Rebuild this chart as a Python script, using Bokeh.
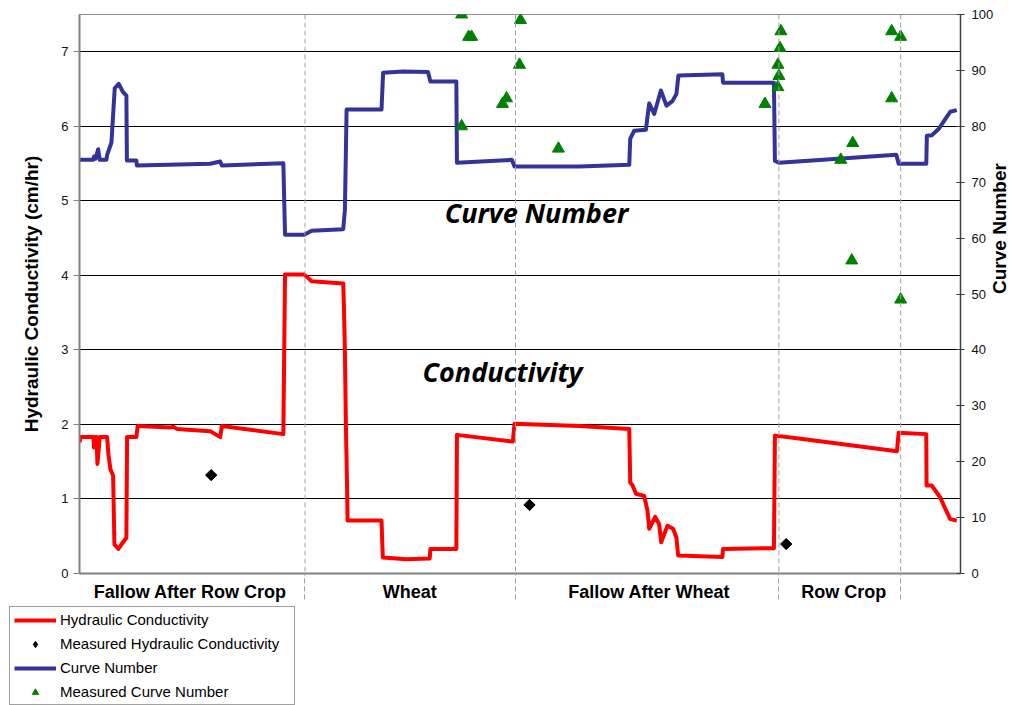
import math
from bokeh.plotting import figure
from bokeh.models import Range1d, LinearAxis, FixedTicker, Span, Label, Legend, LegendItem
from bokeh.embed import file_html
from bokeh.resources import INLINE

# ---------------- data ----------------
# day index along the record
hc_day = [0, 1, 14, 14.5, 16, 17, 18, 20.3, 27.7, 29, 31, 33.7, 35, 39, 43.7, 47, 47.7, 57, 58.3,
          91, 94, 97.7, 131, 141, 142.7, 204.3, 206, 225.3, 232.7, 254, 264.3, 265, 266, 267,
          268, 268.7, 302.7, 304, 327.7, 351, 351.7, 377.7, 378.3, 434.3, 436, 501, 551, 552,
          554.3, 557.7, 566, 569.3, 571, 577, 581, 583, 589.3, 595, 598.3, 600, 644.3, 645, 696,
          697, 721, 819.3, 821, 848.7, 849, 854.3, 862.7, 867.7, 872.7, 879.3]
hc_val = [1.76, 1.83, 1.83, 1.69, 1.83, 1.83, 1.47, 1.83, 1.83, 1.60, 1.40, 1.31, 0.39, 0.33, 0.42,
          0.48, 1.83, 1.83, 1.98, 1.96, 1.97, 1.94, 1.91, 1.83, 1.98, 1.87, 4.01, 4.01, 3.92, 3.90,
          3.89, 3.60, 3.00, 2.00, 1.30, 0.71, 0.71, 0.215, 0.19, 0.20, 0.33, 0.33, 1.86, 1.77, 2.01,
          1.98, 1.94, 1.22, 1.18, 1.07, 1.04, 0.84, 0.60, 0.76, 0.66, 0.42, 0.64, 0.60, 0.48, 0.24,
          0.22, 0.33, 0.34, 1.85, 1.81, 1.64, 1.89, 1.87, 1.18, 1.18, 1.02, 0.87, 0.73, 0.71]

cn_day = [0, 13.7, 14.5, 16, 18.7, 20.3, 27, 27.7, 32, 35.3, 39.3, 43.7, 47, 47.5, 57, 57.5, 131,
          141, 142.7, 204.3, 206, 225.3, 232.7, 264.3, 266, 267.7, 302.7, 304.3, 324.3, 349.3,
          351.7, 377.7, 378.3, 433.3, 436, 501, 551, 552, 556, 567.7, 569, 571, 576, 582.7, 588.3,
          594.3, 598.3, 600.3, 644.3, 645, 696, 697, 701, 818.7, 821, 848.7, 849.3, 854.3, 861,
          867.7, 872.7, 879.3]
cn_val = [74.0, 74.0, 74.6, 74.2, 75.9, 74.0, 74.0, 74.9, 77.1, 86.8, 87.6, 86.1, 85.5, 73.9, 73.9,
          73.0, 73.3, 73.7, 73.0, 73.4, 60.6, 60.6, 61.3, 61.6, 65.0, 83.0, 83.0, 89.6, 89.8, 89.7,
          88.0, 88.0, 73.5, 74.0, 72.8, 72.8, 73.1, 77.8, 79.2, 79.4, 81.3, 84.1, 82.2, 86.4, 83.7,
          84.5, 85.8, 89.1, 89.3, 87.8, 87.8, 73.8, 73.5, 74.9, 73.3, 73.3, 78.3, 78.4, 79.5, 81.3,
          82.6, 82.9]

meas_hc_day = [132, 451, 708.3]
meas_hc_val = [1.32, 0.92, 0.395]

meas_cn_day = [383, 390, 393, 442, 441, 428, 424, 383, 480, 703, 702, 700, 701, 700, 687,
               814, 823, 814, 775, 763, 774, 823]
meas_cn_val = [100, 96, 96, 99, 91, 85, 84, 80, 76, 97, 94, 91, 89, 87, 84,
               97, 96, 85, 77, 74, 56, 49]

period_bounds = [226, 437, 701, 823]
period_names = ["Fallow After Row Crop", "Wheat", "Fallow After Wheat", "Row Crop"]
period_centers = [111, 331, 571, 766]

hc_ticks = [0, 1, 2, 3, 4, 5, 6, 7]
cn_ticks = [0, 10, 20, 30, 40, 50, 60, 70, 80, 90, 100]

FONT = "Liberation Sans"
RED, BLUE, GREEN = "#FF0000", "#333399", "#008000"

# ---------------- main figure ----------------
p = figure(width=1023, height=605, output_backend="svg", toolbar_location=None, title=None,
           x_range=Range1d(0, 883), y_range=Range1d(0, 7.5),
           min_border_left=79, min_border_right=61, min_border_top=14, min_border_bottom=32)
p.extra_y_ranges = {"cn": Range1d(0, 100)}
p.background_fill_color = "white"
p.border_fill_color = "white"
p.outline_line_color = "#8c8c8c"
p.outline_line_width = 1

p.xgrid.visible = False
p.ygrid.ticker = FixedTicker(ticks=hc_ticks[1:])
p.ygrid.grid_line_color = "black"
p.ygrid.grid_line_width = 1

# x axis: period names under their centres, dashed marks at period boundaries
xa = p.xaxis[0]
xa.ticker = FixedTicker(ticks=period_centers, minor_ticks=period_bounds)
xa.major_label_overrides = {c: n for c, n in zip(period_centers, period_names)}
xa.major_label_text_font = FONT
xa.major_label_text_font_size = "18px"
xa.major_label_text_font_style = "bold"
xa.major_label_text_color = "black"
xa.major_label_standoff = -18
xa.major_tick_in = 0
xa.major_tick_out = 0
xa.major_tick_line_color = None
xa.minor_tick_in = 0
xa.minor_tick_out = 26
xa.minor_tick_line_color = "#a0a0a0"
xa.minor_tick_line_dash = "5 3"
xa.minor_tick_line_width = 1
xa.axis_line_color = "#808080"
xa.axis_line_width = 2

# left axis
ya = p.yaxis[0]
ya.ticker = FixedTicker(ticks=hc_ticks, minor_ticks=[])
ya.axis_label = "Hydraulic Conductivity (cm/hr)"
ya.axis_label_text_font = FONT
ya.axis_label_text_font_size = "19px"
ya.axis_label_text_font_style = "bold"
ya.axis_label_text_color = "black"
ya.axis_label_standoff = 16
ya.major_label_text_font = FONT
ya.major_label_text_font_size = "13px"
ya.major_label_text_color = "#111111"
ya.major_label_standoff = 5
ya.major_tick_in = 0
ya.major_tick_out = 6
ya.major_tick_line_color = "#808080"
ya.minor_tick_line_color = None
ya.axis_line_color = "#808080"
ya.axis_line_width = 2

# right axis
ra = LinearAxis(y_range_name="cn", ticker=FixedTicker(ticks=cn_ticks, minor_ticks=[]))
ra.axis_label = "Curve Number"
ra.axis_label_text_font = FONT
ra.axis_label_text_font_size = "19px"
ra.axis_label_text_font_style = "bold"
ra.axis_label_text_color = "black"
ra.axis_label_standoff = 3
if "axis_label_orientation" in ra.properties():
    ra.axis_label_orientation = math.pi / 2
ra.major_label_text_font = FONT
ra.major_label_text_font_size = "13px"
ra.major_label_text_color = "#111111"
ra.major_label_standoff = 7
ra.major_tick_in = 4
ra.major_tick_out = 4
ra.major_tick_line_color = "#404040"
ra.minor_tick_line_color = None
ra.axis_line_color = "#404040"
ra.axis_line_width = 1.5
p.add_layout(ra, "right")

# period separators
for b in period_bounds:
    p.add_layout(Span(location=b, dimension="height", line_color="#a0a0a0",
                      line_dash="5 3", line_width=1))

# ---------------- series ----------------
p.line(hc_day, hc_val, line_color=RED, line_width=4, line_join="round")
p.scatter(meas_hc_day, meas_hc_val, marker="square", size=8, angle=math.pi / 4,
          fill_color="black", line_color="black")
p.line(cn_day, cn_val, y_range_name="cn", line_color=BLUE, line_width=4, line_join="round")
p.scatter(meas_cn_day, meas_cn_val, y_range_name="cn", marker="triangle", size=12,
          fill_color=GREEN, line_color=GREEN)

# ---------------- in-plot texts ----------------
p.add_layout(Label(x=458, y=4.85, text="Curve Number", text_font="Open Sans",
                   text_font_size="27px", text_font_style="bold italic", text_color="black",
                   text_align="center", text_baseline="middle"))
p.add_layout(Label(x=424, y=2.71, text="Conductivity", text_font="Open Sans",
                   text_font_size="27px", text_font_style="bold italic", text_color="black",
                   text_align="center", text_baseline="middle"))

# ---------------- legend panel under the chart ----------------
nan = [float("nan")]
lf = figure(width=300, height=100, output_backend="svg", toolbar_location=None, title=None,
            x_axis_type=None, y_axis_type=None, min_border=0,
            min_border_left=0, min_border_right=0, min_border_top=0, min_border_bottom=0,
            x_range=Range1d(0, 1), y_range=Range1d(0, 1))
lf.outline_line_color = None
lf.grid.visible = False
l_hc = lf.line(nan, nan, line_color=RED, line_width=4)
l_mhc = lf.scatter(nan, nan, marker="diamond", size=12,
                   fill_color="black", line_color="black")
l_cn = lf.line(nan, nan, line_color=BLUE, line_width=4)
l_mcn = lf.scatter(nan, nan, marker="triangle", size=12, fill_color=GREEN, line_color=GREEN)

legend = Legend(items=[
    LegendItem(label="Hydraulic Conductivity", renderers=[l_hc]),
    LegendItem(label="Measured Hydraulic Conductivity", renderers=[l_mhc]),
    LegendItem(label="Curve Number", renderers=[l_cn]),
    LegendItem(label="Measured Curve Number", renderers=[l_mcn]),
], location=(9, 0))
legend.label_text_font = FONT
legend.label_text_font_size = "15px"
legend.label_text_color = "black"
legend.glyph_width = 42
legend.glyph_height = 16
legend.label_height = 16
legend.label_width = 230
legend.label_standoff = 4
legend.spacing = 7
legend.padding = 4
legend.margin = 0
legend.border_line_color = "#404040"
legend.border_line_width = 1
legend.background_fill_color = "white"
legend.background_fill_alpha = 1
lf.add_layout(legend)

open("out.html", "w").write(file_html([p, lf], INLINE))
